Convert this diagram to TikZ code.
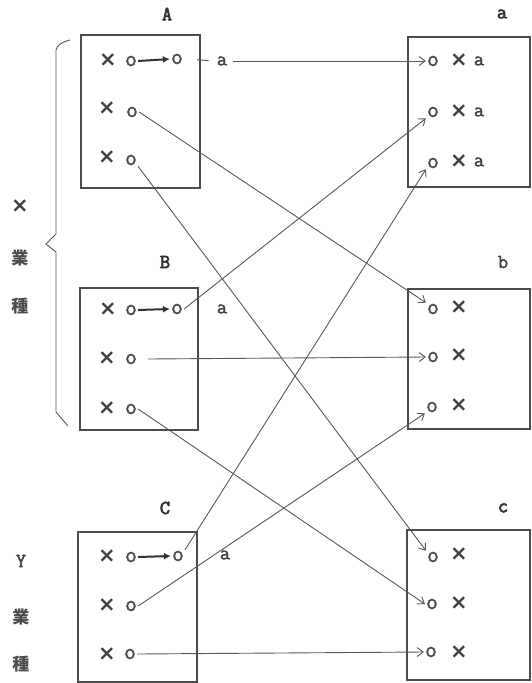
\documentclass[tikz,border=0pt]{standalone}
\usepackage{fontspec}
\newfontfamily\cjk{Noto Sans CJK JP}
\newfontfamily\symf{DejaVu Sans}
\newfontfamily\tw[FakeBold=1.6]{Latin Modern Mono}
\newfontfamily\twb[FakeBold=3.2]{Latin Modern Mono}
\usetikzlibrary{arrows.meta}
\begin{document}
\begin{tikzpicture}[x=1pt,y=-1pt,
  ln/.style={draw=black!65, line width=0.9pt},
  con/.style={ln, -{Straight Barb[length=6pt,width=9pt,line width=0.9pt]}},
  boxst/.style={draw=black!70, line width=1.2pt},
  oo/.style={font=\tw\fontsize{23}{23}\selectfont, text=black!70, inner sep=1pt},
  lt/.style={font=\tw\fontsize{20}{20}\selectfont, text=black!75, inner sep=1pt},
  hd/.style={font=\twb\fontsize{20}{20}\selectfont, text=black!80, inner sep=1pt},
  xx/.style={font=\symf\bfseries\fontsize{21}{21}\selectfont, text=black!75, inner sep=1pt},
  kj/.style={font=\cjk\bfseries\fontsize{17}{17}\selectfont, text=black!70, inner sep=1pt},
  sm/.style={draw=black!80, line width=2pt, -{Latex[length=7pt,width=7pt]}}]
\useasboundingbox[fill=white] (0,0) rectangle (531,683);

% boxes
\node[boxst, minimum width=119pt, minimum height=153pt, inner sep=0pt] (boxA) at (140.5,111.5) {};
\node[boxst, minimum width=118pt, minimum height=142pt, inner sep=0pt] (boxB) at (139,359) {};
\node[boxst, minimum width=119pt, minimum height=150pt, inner sep=0pt] (boxC) at (137.5,607) {};
\draw[boxst] (531,37) -- (408,37) -- (408,187) -- (531,187);
\draw[boxst] (531,289) -- (408,289) -- (408,429) -- (531,429);
\draw[boxst] (531,530) -- (407,530) -- (407,680) -- (531,680);
\draw[boxst] (530,37) -- (530,187);
\draw[boxst] (530,289) -- (530,429);
\draw[boxst] (530,530) -- (530,680);

% headings
\node[hd] (hA) at (167,14) {A};
\node[hd] (ha) at (502,14) {a};
\node[hd] (hB) at (165,262) {B};
\node[lt] (hb) at (503,262) {b};
\node[hd] (hC) at (165,508) {C};
\node[hd] (hc) at (503,508) {c};

% left labels
\node[xx] (lx) at (20,206) {×};
\node[kj] (lk1) at (20,258) {業};
\node[kj] (lk2) at (20,306) {種};
\node[lt] (ly) at (21,561) {Y};
\node[kj] (lk3) at (21,617) {業};
\node[kj] (lk4) at (21,664) {種};
\draw[ln] (70,40) .. controls (62,42) and (57,45) .. (56,50) -- (56,234) -- (46,244) -- (56,252) -- (56,412) -- (68,426);

% box A rows
\node[xx] (Ax1) at (108,60) {×};
\node[oo] (Ao1) at (131,61) {o};
\node[oo] (Ap1) at (177,59) {o};
\node[lt] (Aa1) at (222,61) {a};
\node[xx] (Ax2) at (107,108) {×};
\node[oo] (Ao2) at (132,112) {o};
\node[xx] (Ax3) at (107,157) {×};
\node[oo] (Ao3) at (131,160) {o};
\draw[sm] (Ao1.east) -- (Ap1.west);
\draw[ln, shorten <=13pt, shorten >=7pt] (Ap1.east) -- (Aa1.west);

% box B rows
\node[xx] (Bx1) at (108,309) {×};
\node[oo] (Bo1) at (131,310) {o};
\node[oo] (Bp1) at (177,309) {o};
\node[lt] (Ba1) at (222,309) {a};
\node[xx] (Bx2) at (107,358) {×};
\node[oo] (Bo2) at (131,359) {o};
\node[xx] (Bx3) at (107,408) {×};
\node[oo] (Bo3) at (131,409) {o};
\draw[sm] (Bo1.east) -- (Bp1.west);

% box C rows
\node[xx] (Cx1) at (107,556) {×};
\node[oo] (Co1) at (131,557) {o};
\node[oo] (Cp1) at (178,556) {o};
\node[lt] (Ca1) at (225,555) {a};
\node[xx] (Cx2) at (107,605) {×};
\node[oo] (Co2) at (131,606) {o};
\node[xx] (Cx3) at (107,654) {×};
\node[oo] (Co3) at (130,654) {o};
\draw[sm] (Co1.east) -- (Cp1.west);

% right box a rows
\node[oo] (ao1) at (433,61) {o};
\node[xx] (ax1) at (459,60) {×};
\node[lt] (aa1) at (479,61) {a};
\node[oo] (ao2) at (433,112) {o};
\node[xx] (ax2) at (459,111) {×};
\node[lt] (aa2) at (479,112) {a};
\node[oo] (ao3) at (433,163) {o};
\node[xx] (ax3) at (459,161) {×};
\node[lt] (aa3) at (479,162) {a};

% right box b rows
\node[oo] (bo1) at (433,309) {o};
\node[xx] (bx1) at (459,307) {×};
\node[oo] (bo2) at (433,357) {o};
\node[xx] (bx2) at (459,355) {×};
\node[oo] (bo3) at (432,407) {o};
\node[xx] (bx3) at (459,405) {×};

% right box c rows
\node[oo] (co1) at (433,557) {o};
\node[xx] (cx1) at (459,554) {×};
\node[oo] (co2) at (432,604) {o};
\node[xx] (cx2) at (459,603) {×};
\node[oo] (co3) at (431,652) {o};
\node[xx] (cx3) at (459,652) {×};

% connectors
\draw[con] (Aa1.east) ++(5,0) coordinate (s1) -- (ao1.west);
\draw[con] (Ao2.east) -- (bo1.north west);
\draw[con] (Ao3.south east) -- (co1.north west);
\draw[con] (Bp1.east) -- (ao2.south west);
\draw[con] ([xshift=10pt]Bo2.east) -- (bo2.west);
\draw[con] (Bo3.east) -- (co2.west);
\draw[con] (Cp1.north east) -- (ao3.south west);
\draw[con] (Co2.east) -- (bo3.south west);
\draw[con] (Co3.east) -- (co3.west);
\end{tikzpicture}
\end{document}
